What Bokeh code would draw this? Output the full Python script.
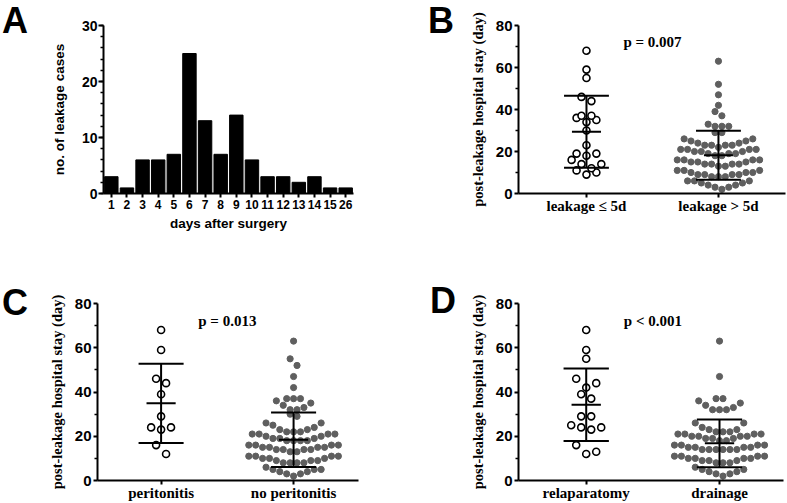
import numpy as np
from bokeh.plotting import figure
from bokeh.layouts import column, row
from bokeh.models import Range1d, FactorRange, FixedTicker, Label, Div
from bokeh.embed import file_html
from bokeh.resources import INLINE

# ---------------- data ----------------
days = ["1", "2", "3", "4", "5", "6", "7", "8", "9", "10", "11", "12", "13", "14", "15", "26"]
cases = [3, 1, 6, 6, 7, 25, 13, 7, 14, 6, 3, 3, 2, 3, 1, 1]

stay_le5 = [68, 59, 55, 46, 44, 37, 37, 36, 35, 34, 30, 23, 19, 19, 18, 16, 14, 14, 12, 11, 10, 9]
stay_gt5 = [63, 52, 47, 42, 39, 37, 33, 32, 32, 32, 29, 29,
            26, 26, 25, 25, 24, 24, 23, 23, 23, 23, 22,
            21, 21, 21, 21, 20, 20, 20, 19, 19, 19, 18, 18,
            16, 16, 16, 16, 15, 15, 15, 14, 14, 14, 14, 13, 13,
            11, 11, 11, 10, 10, 10, 9, 9, 9, 9, 8, 8, 8,
            6, 6, 6, 5, 5, 4, 4, 3, 3, 2]

stay_perit = [68, 59, 46, 44, 39, 29, 24, 24, 23, 16, 12]
stay_noperit = [63, 55, 52, 47, 42, 37, 37, 37, 36, 35, 34, 33, 32, 32, 30, 29,
                26, 26, 25, 24, 23, 23, 22, 22, 22,
                21, 21, 21, 21, 20, 20, 19, 19, 19, 18, 18, 18, 18,
                16, 16, 16, 16, 15, 15, 15, 15, 14, 14, 14, 14, 13, 13,
                11, 11, 11, 11, 10, 10, 10, 9, 9, 9, 8, 8, 8, 8,
                6, 5, 5, 5, 4, 4, 3, 3, 2]

stay_relap = [68, 59, 55, 46, 44, 42, 39, 37, 29, 29, 25, 24, 24, 23, 16, 13, 12]
stay_drain = [63, 47, 37, 37, 36, 35, 34, 33, 32, 32, 32,
              26, 26, 24, 23, 23, 22, 22, 22,
              21, 21, 21, 21, 20, 20, 20, 20, 19, 19, 19, 18, 18,
              16, 16, 16, 16, 15, 15, 15, 15, 14, 14, 14, 14, 14, 14,
              11, 11, 11, 11, 10, 10, 10, 10, 9, 9, 9, 8, 8, 8,
              6, 5, 5, 4, 4, 3, 3, 2]

b_labels = ["leakage \u2264 5d", "leakage > 5d"]
c_labels = ["peritonitis", "no peritonitis"]
d_labels = ["relaparatomy", "drainage"]

b_mean = [29.4, 18.2]
b_sd = [17.1, 11.7]
c_mean = [34.9, 18.4]
c_sd = [17.9, 12.3]
d_mean = [34.2, 16.8]
d_sd = [16.4, 10.8]

p_texts = ["p = 0.007", "p = 0.013", "p < 0.001"]
panel_letters = ["A", "B", "C", "D"]
y_ticks = [0, 20, 40, 60, 80]

# ---------------- style ----------------
SANS = "Liberation Sans"
SERIF = "Liberation Serif"
GRAY = "#5f5f5f"


def swarm(values, center, spacing, binw=5.0, offset=1.5):
    vals = np.sort(np.asarray(values, dtype=float))
    bins = np.floor((vals - offset) / binw).astype(int)
    xs, ys = [], []
    for b in np.unique(bins):
        r = vals[bins == b]
        n = len(r)
        offs = (np.arange(n) - (n - 1) / 2.0) * spacing
        order = sorted(range(n), key=lambda i: (abs(offs[i]), -offs[i]))
        for v, i in zip(r, order):
            xs.append(center + offs[i])
            ys.append(v)
    return xs, ys


def base_style(p):
    p.outline_line_color = None
    p.grid.visible = False
    p.background_fill_color = "white"
    p.border_fill_color = "white"
    for ax in (p.xaxis[0], p.yaxis[0]):
        ax.axis_line_width = 2
        ax.axis_line_color = "black"
        ax.major_tick_line_width = 2
        ax.major_tick_line_color = "black"
        ax.minor_tick_line_width = 1.5
        ax.minor_tick_line_color = "black"
        ax.major_tick_in = 0
        ax.minor_tick_in = 0
        ax.major_label_text_color = "black"
        ax.major_label_text_font_style = "bold"
        ax.axis_label_text_font_style = "bold"
        ax.axis_label_text_color = "black"


def letter_div(txt, w, h, pad_top, pad_left):
    html = ('<div style="font-family: \'Liberation Sans\', Arial, sans-serif; font-weight: bold; '
            'font-size: 36px; line-height: 42px; color: black; margin: 0; '
            'padding-top: %dpx; padding-left: %dpx;">%s</div>' % (pad_top, pad_left, txt))
    return Div(text=html, width=w, height=h, margin=0)


# ---------------- panel A ----------------
pA = figure(width=345, height=250, x_range=FactorRange(factors=days), y_range=Range1d(0, 30), title=None,
            output_backend="svg", toolbar_location=None,
            min_border_left=58, min_border_right=37, min_border_top=25, min_border_bottom=57)
base_style(pA)
pA.vbar(x=days, top=cases, width=0.86, fill_color="black", line_color="black")
pA.yaxis.ticker = FixedTicker(ticks=[0, 10, 20, 30], minor_ticks=list(range(0, 31, 2)))
pA.yaxis.major_tick_out = 5
pA.yaxis.minor_tick_out = 3
pA.yaxis.major_label_standoff = 1
pA.yaxis.major_label_text_font = SANS
pA.yaxis.major_label_text_font_size = "14px"
pA.yaxis.axis_label = "no. of leakage cases"
pA.yaxis.axis_label_text_font = SANS
pA.yaxis.axis_label_text_font_size = "13.5px"
pA.yaxis.axis_label_standoff = 12
pA.xaxis.major_tick_out = 4
pA.xaxis.major_label_standoff = 2
pA.xaxis.major_label_text_font = SANS
pA.xaxis.major_label_text_font_size = "12px"
pA.xaxis.axis_label = "days after surgery"
pA.xaxis.axis_label_text_font = SANS
pA.xaxis.axis_label_text_font_size = "13.5px"
pA.xaxis.axis_label_standoff = 4


# ---------------- dot panels ----------------
def dot_panel(width, height, mb, xr, labels, open_vals, gray_vals, means, sds, ptxt):
    p = figure(width=width, height=height, x_range=Range1d(*xr), y_range=Range1d(0, 80), title=None,
               output_backend="svg", toolbar_location=None,
               min_border_left=mb[0], min_border_right=mb[1], min_border_top=mb[2], min_border_bottom=mb[3])
    base_style(p)
    xo, yo = swarm(open_vals, 1.0, 0.075)
    p.scatter(xo, yo, size=7, marker="circle", fill_color="white", line_color="black", line_width=1.6)
    xg, yg = swarm(gray_vals, 2.0, 0.052)
    p.scatter(xg, yg, size=6.2, marker="circle", fill_color=GRAY, line_color=GRAY)
    cx = np.array([1.0, 2.0])
    m = np.array(means)
    s = np.array(sds)
    kw = dict(line_color="black", line_width=2)
    p.segment(cx, m - s, cx, m + s, **kw)
    p.segment(cx - 0.17, m + s, cx + 0.17, m + s, **kw)
    p.segment(cx - 0.17, m - s, cx + 0.17, m - s, **kw)
    p.segment(cx - 0.11, m, cx + 0.11, m, **kw)
    p.add_layout(Label(x=1.5, y=72, text=ptxt, text_align="center", text_baseline="alphabetic",
                       text_font=SERIF, text_font_style="bold", text_font_size="15px", text_color="black"))
    p.xaxis.ticker = FixedTicker(ticks=[1, 2])
    p.xaxis.major_label_overrides = {1: labels[0], 2: labels[1]}
    p.xaxis.major_tick_out = 4
    p.xaxis.major_label_standoff = 0
    p.xaxis.major_label_text_font = SERIF
    p.xaxis.major_label_text_font_size = "15px"
    p.yaxis.ticker = FixedTicker(ticks=y_ticks, minor_ticks=[10, 30, 50, 70])
    p.yaxis.major_tick_out = 4
    p.yaxis.minor_tick_out = 3
    p.yaxis.major_label_standoff = 2
    p.yaxis.major_label_text_font = SANS
    p.yaxis.major_label_text_font_size = "15px"
    p.yaxis.axis_label = "post-leakage hospital stay (day)"
    p.yaxis.axis_label_text_font = SERIF
    p.yaxis.axis_label_text_font_size = "14.5px"
    p.yaxis.axis_label_standoff = 7
    return p


pB = dot_panel(322, 250, (53, 2, 20, 53), (0.485, 2.508), b_labels, stay_le5, stay_gt5, b_mean, b_sd, p_texts[0])
pC = dot_panel(345, 253, (49, 32, 53, 23), (0.52, 2.49), c_labels, stay_perit, stay_noperit, c_mean, c_sd, p_texts[1])
pD = dot_panel(322, 253, (53, 4, 53, 23), (0.492, 2.48), d_labels, stay_relap, stay_drain, d_mean, d_sd, p_texts[2])

lA = letter_div(panel_letters[0], 45, 250, 0, 2)
lB = letter_div(panel_letters[1], 75, 250, 0, 38)
lC = letter_div(panel_letters[2], 45, 253, 32, 2)
lD = letter_div(panel_letters[3], 75, 253, 30, 40)

layout = column(row(lA, pA, lB, pB, spacing=0), row(lC, pC, lD, pD, spacing=0), spacing=0)

open("out.html", "w").write(file_html(layout, INLINE))
